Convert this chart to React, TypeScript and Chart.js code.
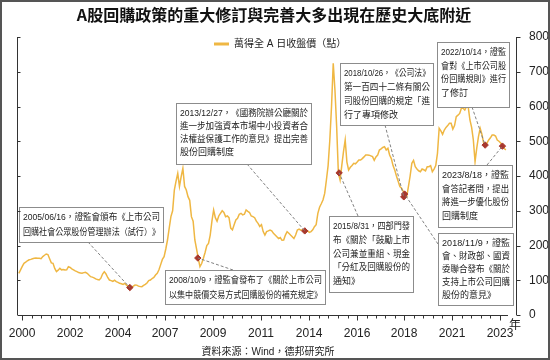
import React, { useEffect, useRef } from "react";
import { Chart, registerables } from "chart.js";

Chart.register(...registerables);

const TITLE = "A股回購政策的重大修訂與完善大多出現在歷史大底附近";
const SERIES_NAME = "萬得全 A 日收盤價（點）";
const SOURCE = "資料來源：Wind，德邦研究所";
const AXIS_UNIT = "年";

// Monthly closes (points), one array per year
const c2000 = [1200, 1300, 1400, 1487, 1520, 1560, 1590, 1600, 1620, 1631, 1640, 1630];
const c2001 = [1631, 1620, 1680, 1720, 1755, 1740, 1620, 1500, 1487, 1340, 1247, 1290];
const c2002 = [1343, 1300, 1310, 1295, 1300, 1391, 1370, 1330, 1300, 1270, 1247, 1220];
const c2003 = [1210, 1200, 1220, 1230, 1200, 1150, 1103, 1090, 1070, 1040, 1020, 1007];
const c2004 = [1060, 1180, 1247, 1180, 1080, 1007, 990, 970, 1000, 960, 940, 911];
const c2005 = [900, 880, 910, 860, 820, 786, 790, 830, 863, 860, 830, 820];
const c2006 = [815, 850, 880, 920, 990, 1007, 1050, 1080, 1150, 1200, 1300, 1450];
const c2007 = [1600, 1679, 1900, 2158, 2500, 2830, 3000, 3597, 3850, 4077, 3700, 3980];
const c2008 = [4220, 3700, 3597, 3405, 3300, 2830, 2700, 2158, 1900, 1631, 1391, 1480];
const c2009 = [1631, 1800, 2000, 2062, 2300, 2700, 3022, 2800, 2700, 2850, 2926, 3000];
const c2010 = [2950, 2830, 2850, 2800, 2500, 2450, 2600, 2734, 2780, 2900, 2926, 2880];
const c2011 = [2900, 3022, 2980, 2950, 2850, 2830, 2800, 2700, 2638, 2550, 2600, 2400];
const c2012 = [2300, 2400, 2420, 2446, 2420, 2350, 2302, 2250, 2200, 2230, 2150, 2158];
const c2013 = [2300, 2398, 2350, 2300, 2254, 2200, 2300, 2446, 2470, 2440, 2450, 2420];
const c2014 = [2398, 2420, 2380, 2400, 2450, 2542, 2600, 2926, 3100, 3200, 3309, 3500];
const c2015 = [3885, 4300, 5036, 6000, 7243, 6475, 5420, 4090, 3885, 4300, 4700, 5036];
const c2016 = [4400, 4173, 4250, 4300, 4365, 4350, 4400, 4460, 4460, 4500, 4550, 4604];
const c2017 = [4604, 4600, 4580, 4556, 4450, 4550, 4600, 4748, 4780, 4820, 4844, 4750];
const c2018 = [4800, 4604, 4500, 4300, 4173, 4000, 3850, 3693, 3650, 3550, 3480, 3405];
const c2019 = [3693, 4000, 4365, 4450, 4269, 4200, 4150, 4125, 4200, 4180, 4150, 4269];
const c2020 = [4269, 4300, 4125, 4200, 4300, 4652, 5372, 5300, 5200, 5324, 5400, 5450];
const c2021 = [5516, 5516, 5350, 5450, 5708, 5750, 5800, 5948, 5950, 5900, 5996, 5990];
const c2022 = [5612, 5400, 5036, 4412, 4800, 5132, 5372, 5200, 4950, 4890, 4950, 5036];
const c2023 = [5100, 5180, 5180, 5150, 5036, 5000, 4950, 4860, 4800, 4748];
const FIRST_YEAR = 2000;
const yearly = [c2000, c2001, c2002, c2003, c2004, c2005, c2006, c2007, c2008, c2009, c2010, c2011,
  c2012, c2013, c2014, c2015, c2016, c2017, c2018, c2019, c2020, c2021, c2022, c2023];

// Policy events
const eventDates = ["2005-06-16", "2008-10-09", "2013-12-27", "2015-08-31", "2018-10-26", "2018-11-09", "2022-10-14", "2023-08-18"];
const eventValues = [790, 1640, 2420, 4090, 3400, 3480, 4890, 4860];

// X axis tick labels and their positions (fractional years)
const xTickLabels = ["2000", "2002", "2004", "2007", "2009", "2011", "2014", "2016", "2018", "2021", "2023"];
const xTickValues = [2000.2, 2002.54, 2004.88, 2007.17, 2009.51, 2011.85, 2014.2, 2016.54, 2018.83, 2021.17, 2023.51];

const X_MIN = 2000;
const X_MAX = 2023.85;
const Y_MAX = 8000;
const Y_STEP = 1000;

type Box = { ev: number; x: number; y: number; w: number; h: number; lh: number; ax: number; ay: number; lines: string[] };
const notes: Box[] = [
  { ev: 0, x: 19, y: 207, w: 144, h: 35, lh: 15, ax: 88, ay: 242, lines: ["2005/06/16，證監會頒布《上市公司", "回購社會公眾股份管理辦法（試行）》"] },
  { ev: 1, x: 165, y: 270, w: 160, h: 34, lh: 15, ax: 233, ay: 270, lines: ["2008/10/9，證監會發布了《關於上市公司", "以集中競價交易方式回購股份的補充規定》"] },
  { ev: 2, x: 176, y: 103, w: 135, h: 61, lh: 13, ax: 247, ay: 164, lines: ["2013/12/27，《國務院辦公廳關於", "進一步加強資本市場中小投資者合", "法權益保護工作的意見》提出完善", "股份回購制度"] },
  { ev: 3, x: 329, y: 216, w: 84, h: 76, lh: 13.6, ax: 358, ay: 216, lines: ["2015/8/31，四部門發", "布《關於「鼓勵上市", "公司兼並重組、現金", "「分紅及回購股份的", "通知》"] },
  { ev: 4, x: 340, y: 63, w: 93, h: 62, lh: 14, ax: 385, ay: 125, lines: ["2018/10/26，《公司法》", "第一百四十二條有關公", "司股份回購的規定「進", "行了專項修改"] },
  { ev: 5, x: 438, y: 233, w: 75, h: 72, lh: 12.8, ax: 438, ay: 244, lines: ["2018/11/9，證監", "會、財政部、國資", "委聯合發布《關於", "支持上市公司回購", "股份的意見》"] },
  { ev: 6, x: 437, y: 42, w: 72, h: 65, lh: 13.5, ax: 472, ay: 107, lines: ["2022/10/14，證監", "會對《上市公司股", "份回購規則》進行", "了修訂"] },
  { ev: 7, x: 438, y: 165, w: 74, h: 62, lh: 13.5, ax: 487, ay: 165, lines: ["2023/8/18，證監", "會答記者問，提出", "將進一步優化股份", "回購制度"] },
];

const LINE_COLOR = "#efb743";
const MARK_COLOR = "#a8372c";
const NUM_FONT = "'Liberation Sans Narrow', 'Liberation Sans', sans-serif";
const NOTE_FONT = "9px 'Liberation Sans', 'Noto Sans CJK TC', sans-serif";

function toYear(s: string) {
  const [y, m, d] = s.split("-").map(Number);
  const a = Date.UTC(y, 0, 1);
  const b = Date.UTC(y + 1, 0, 1);
  return y + (Date.UTC(y, m - 1, d) - a) / (b - a);
}

function drawLine(ctx: CanvasRenderingContext2D, text: string, x: number, y: number, width: number, justify: boolean) {
  const chars = Array.from(text);
  const widths = chars.map((c) => ctx.measureText(c).width);
  const natural = widths.reduce((a, b) => a + b, 0);
  let scale = 1;
  let gap = 0;
  if (natural > width) scale = width / natural;
  else if (justify && chars.length > 1) gap = (width - natural) / (chars.length - 1);
  ctx.save();
  ctx.translate(x, y);
  ctx.scale(scale, 1);
  let off = 0;
  chars.forEach((c, i) => {
    ctx.fillText(c, off, 0);
    off += widths[i] + gap;
  });
  ctx.restore();
}

const decor = {
  id: "decor",
  afterDatasetsDraw(chart: any) {
    const ctx: CanvasRenderingContext2D = chart.ctx;
    const xs = chart.scales.x;
    const ys = chart.scales.y;
    const area = chart.chartArea;
    ctx.save();
    // leaders
    ctx.strokeStyle = "#808080";
    ctx.lineWidth = 1;
    ctx.setLineDash([3, 2]);
    notes.forEach((n) => {
      const px = xs.getPixelForValue(toYear(eventDates[n.ev]));
      const py = ys.getPixelForValue(eventValues[n.ev]);
      ctx.beginPath();
      ctx.moveTo(n.ax, n.ay);
      ctx.lineTo(px, py);
      ctx.stroke();
    });
    ctx.setLineDash([]);
    // boxes
    notes.forEach((n) => {
      ctx.fillStyle = "#ffffff";
      ctx.fillRect(n.x, n.y, n.w, n.h);
      ctx.strokeStyle = "#8c8c8c";
      ctx.lineWidth = 1;
      ctx.strokeRect(n.x + 0.5, n.y + 0.5, n.w, n.h);
      ctx.fillStyle = "#222";
      ctx.font = NOTE_FONT;
      ctx.textBaseline = "middle";
      ctx.textAlign = "left";
      n.lines.forEach((t, i) => {
        drawLine(ctx, t, n.x + 4, n.y + 11 + i * n.lh, n.w - 7, i < n.lines.length - 1);
      });
    });
    // axes
    ctx.strokeStyle = "#333";
    ctx.lineWidth = 1;
    const top = ys.getPixelForValue(Y_MAX);
    const bot = ys.getPixelForValue(0);
    const lx = Math.round(area.left) - 0.5;
    const rx = Math.round(area.right) + 9.5;
    ctx.beginPath();
    ctx.moveTo(lx, top);
    ctx.lineTo(lx, bot);
    ctx.moveTo(rx, top);
    ctx.lineTo(rx, bot);
    for (let v = 0; v <= Y_MAX; v += Y_STEP) {
      const y = Math.round(ys.getPixelForValue(v)) + 0.5;
      ctx.moveTo(lx, y);
      ctx.lineTo(lx + 3, y);
      ctx.moveTo(rx, y);
      ctx.lineTo(rx + 4, y);
    }
    // x ticks: major + minor
    const by = Math.round(bot) + 0.5;
    for (let i = 0; i < xTickValues.length; i++) {
      const x = Math.round(xs.getPixelForValue(xTickValues[i])) + 0.5;
      ctx.moveTo(x, by);
      ctx.lineTo(x, by + 5);
      if (i < xTickValues.length - 1) {
        const step = (xTickValues[i + 1] - xTickValues[i]) / 5;
        for (let k = 1; k < 5; k++) {
          const mx = Math.round(xs.getPixelForValue(xTickValues[i] + k * step)) + 0.5;
          ctx.moveTo(mx, by);
          ctx.lineTo(mx, by + 3);
        }
      }
    }
    ctx.stroke();
    // axis unit
    ctx.fillStyle = "#222";
    ctx.font = "12px 'Noto Sans CJK TC', sans-serif";
    ctx.textAlign = "left";
    ctx.textBaseline = "middle";
    ctx.fillText(AXIS_UNIT, 509, 324);
    // title
    ctx.fillStyle = "#111";
    ctx.font = "bold 16px 'Noto Sans CJK TC', sans-serif";
    ctx.textAlign = "center";
    ctx.fillText(TITLE, 274, 15);
    // legend
    ctx.strokeStyle = LINE_COLOR;
    ctx.lineWidth = 3;
    ctx.beginPath();
    ctx.moveTo(214, 44);
    ctx.lineTo(229, 44);
    ctx.stroke();
    ctx.fillStyle = "#222";
    ctx.font = "10px 'Liberation Sans', 'Noto Sans CJK TC', sans-serif";
    ctx.textAlign = "left";
    ctx.fillText(SERIES_NAME, 234, 44);
    // source
    ctx.textAlign = "center";
    ctx.fillText(SOURCE, 268, 352);
    // frame
    ctx.strokeStyle = "#555";
    ctx.lineWidth = 2;
    ctx.strokeRect(1, 1, 548, 358);
    ctx.restore();
  },
};

export default function App() {
  const ref = useRef<HTMLCanvasElement | null>(null);
  useEffect(() => {
    document.body.style.margin = "0";
    const canvas = ref.current;
    if (!canvas) return;
    const linePts: { x: number; y: number }[] = [];
    yearly.forEach((arr, yi) => {
      arr.forEach((v, m) => linePts.push({ x: FIRST_YEAR + yi + (m + 0.5) / 12, y: v }));
    });
    const eventPts = eventDates.map((d, i) => ({ x: toYear(d), y: eventValues[i] }));
    const chart = new Chart(canvas, {
      type: "line",
      data: {
        datasets: [
          {
            type: "scatter",
            label: "events",
            data: eventPts,
            pointStyle: "rectRot",
            pointRadius: 3.2,
            backgroundColor: MARK_COLOR,
            borderColor: MARK_COLOR,
            order: 0,
          } as any,
          {
            label: SERIES_NAME,
            data: linePts,
            borderColor: LINE_COLOR,
            borderWidth: 1.5,
            pointRadius: 0,
            tension: 0,
            order: 1,
          },
        ],
      },
      options: {
        animation: false,
        responsive: false,
        devicePixelRatio: 1,
        layout: { padding: { left: 18, right: 0, top: 37, bottom: 0 } },
        plugins: { legend: { display: false }, title: { display: false }, tooltip: { enabled: false } },
        scales: {
          x: {
            type: "linear",
            min: X_MIN,
            max: X_MAX,
            afterBuildTicks: (s: any) => {
              s.ticks = xTickValues.map((v) => ({ value: v }));
            },
            afterFit: (s: any) => {
              s.height = 45;
            },
            grid: { display: false },
            border: { display: true, color: "#333", width: 1 },
            ticks: {
              autoSkip: false,
              maxRotation: 0,
              padding: 3,
              color: "#222",
              font: { family: NUM_FONT, size: 12 },
              callback: (_v: any, i: number) => xTickLabels[i],
            },
          },
          y: {
            position: "right",
            min: 0,
            max: Y_MAX,
            afterFit: (s: any) => {
              s.width = 43;
            },
            grid: { display: false },
            border: { display: false },
            ticks: {
              stepSize: Y_STEP,
              padding: 14,
              color: "#222",
              font: { family: NUM_FONT, size: 12 },
              callback: (v: any) => String(v),
            },
          },
        },
      },
      plugins: [decor],
    });
    return () => chart.destroy();
  }, []);
  return (
    <div style={{ width: 550, height: 360, background: "#fff" }}>
      <canvas ref={ref} width={550} height={360} style={{ display: "block" }} />
    </div>
  );
}
